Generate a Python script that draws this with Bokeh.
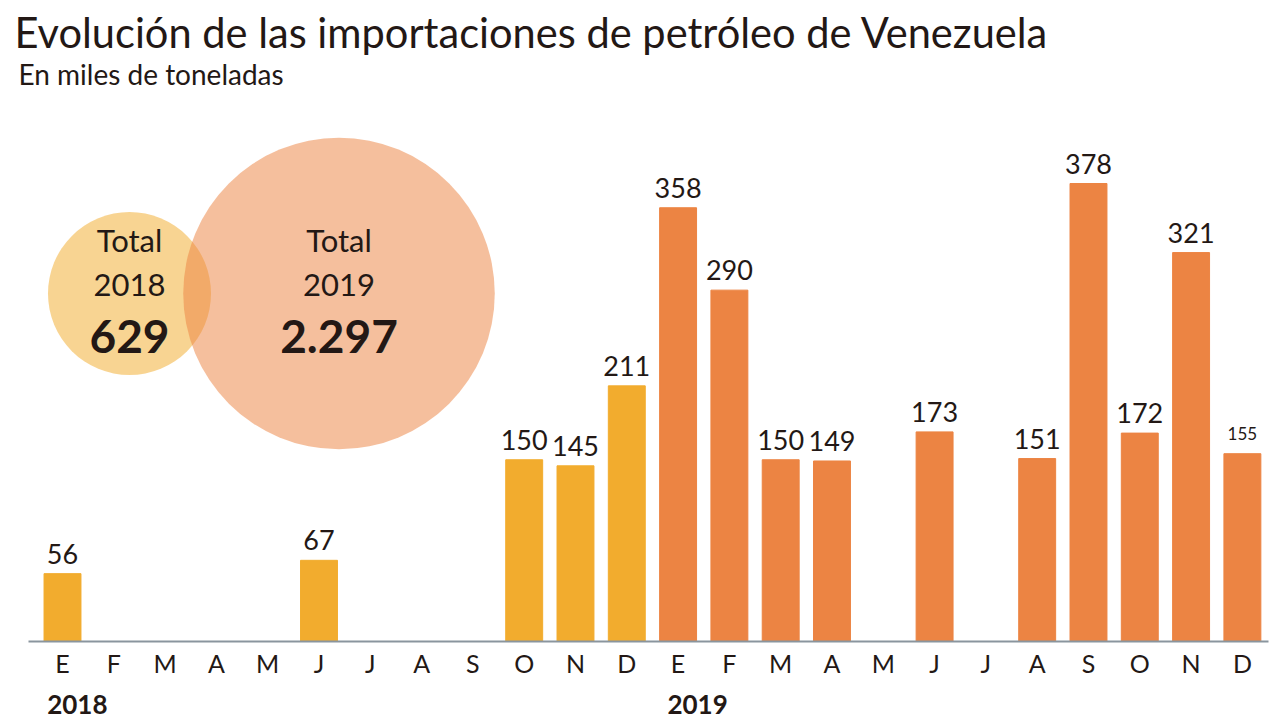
from bokeh.plotting import figure
from bokeh.models import ColumnDataSource, Label, FixedTicker, LinearAxis, Range1d
from bokeh.core.properties import value
from bokeh.embed import file_html
from bokeh.resources import INLINE

# ---- data ----
months = ["E", "F", "M", "A", "M", "J", "J", "A", "S", "O", "N", "D"]
imports_2018 = [56, 0, 0, 0, 0, 67, 0, 0, 0, 150, 145, 211]
imports_2019 = [358, 290, 150, 149, 0, 173, 0, 151, 378, 172, 321, 155]
years = ["2018", "2019"]
totals = [629, 2297]
totals_text = ["629", "2.297"]

title_text = "Evolución de las importaciones de petróleo de Venezuela"
subtitle_text = "En miles de toneladas"

# ---- styles ----
C18 = "#F2AC2E"
C19 = "#EC8443"
TXT = "#231815"
FONT = "Lato"

W, H = 1284, 721
p = figure(width=W, height=H, output_backend="svg", toolbar_location=None,
           x_range=Range1d(-1.2086, 23.821), y_range=Range1d(0, 529.05),
           min_border_left=0, min_border_right=0, min_border_top=0,
           min_border_bottom=80, outline_line_color=None,
           background_fill_color="white", border_fill_color="white")
p.grid.visible = False
p.yaxis.visible = False
p.xaxis.visible = False

# bars
xs, tops, cols, labs, sizes = [], [], [], [], []
all_vals = imports_2018 + imports_2019
for i, v in enumerate(all_vals):
    if v > 0:
        xs.append(i)
        tops.append(v)
        cols.append(C18 if i < 12 else C19)
        labs.append(str(v))
        sizes.append("17px" if i == len(all_vals) - 1 else "27px")
src = ColumnDataSource(dict(x=xs, top=tops, color=cols, lab=labs, size=sizes))
p.vbar(x="x", top="top", width=0.72, bottom=0, color="color", source=src)
p.text(x="x", y="top", text="lab", source=src, text_align="center",
       text_baseline="middle", y_offset=-20, text_font=value(FONT),
       text_font_size="size", text_color=TXT)

# circles (totals), area proportional to value
k = 6.5
csrc = ColumnDataSource(dict(
    x=[1.306, 5.39], y=[287.2, 287.2],
    size=[k * t ** 0.5 for t in totals],
    color=[C18, C19], yr=years, tot=totals_text, tl=["Total", "Total"]))
p.scatter(x="x", y="y", size="size", fill_color="color", fill_alpha=0.52,
          line_color=None, source=csrc)
p.text(x="x", y="y", text="tl", source=csrc, text_align="center",
       text_baseline="middle", y_offset=-54, text_font=value(FONT),
       text_font_size="31px", text_color=TXT)
p.text(x="x", y="y", text="yr", source=csrc, text_align="center",
       text_baseline="middle", y_offset=-9, text_font=value(FONT),
       text_font_size="31px", text_color=TXT)
p.text(x="x", y="y", text="tot", source=csrc, text_align="center",
       text_baseline="middle", y_offset=43, text_font=value(FONT),
       text_font_size="46px", text_font_style="bold", text_color=TXT)

# month axis
ax = LinearAxis(ticker=FixedTicker(ticks=list(range(24))),
                major_label_overrides={i: (months * 2)[i] for i in range(24)},
                bounds=(-0.663, 23.509),
                axis_line_color="#8A959E", axis_line_width=2,
                major_tick_line_color=None, minor_tick_line_color=None,
                major_label_standoff=0,
                major_label_text_font=FONT, major_label_text_font_size="25px",
                major_label_text_color=TXT)
p.add_layout(ax, "below")

# year axis (below the month axis)
year_pos = [0.29, 12.38]
yax = LinearAxis(ticker=FixedTicker(ticks=year_pos),
                 major_label_overrides={year_pos[j]: years[j] for j in range(2)},
                 axis_line_color=None,
                 major_tick_line_color=None, minor_tick_line_color=None,
                 major_label_standoff=8,
                 major_label_text_font=FONT, major_label_text_font_size="26px",
                 major_label_text_font_style="bold",
                 major_label_text_color=TXT)
p.add_layout(yax, "below")

# titles
p.add_layout(Label(x=14, y=610, x_units="screen", y_units="screen",
                   text=title_text, text_font=FONT, text_font_size="41.6px",
                   text_color=TXT, text_baseline="middle"))
p.add_layout(Label(x=18, y=568, x_units="screen", y_units="screen",
                   text=subtitle_text, text_font=FONT, text_font_size="28px",
                   text_color=TXT, text_baseline="middle"))

open("out.html", "w").write(file_html(p, INLINE))
